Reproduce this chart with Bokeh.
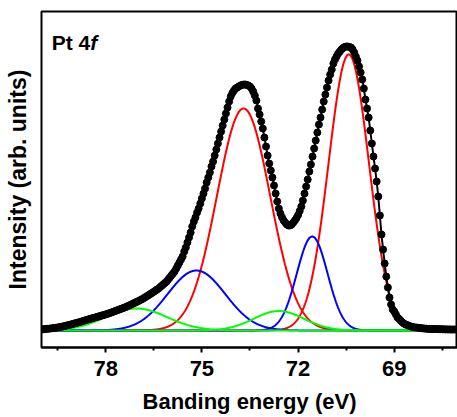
import numpy as np
from bokeh.plotting import figure
from bokeh.models import Range1d, FixedTicker, Label
from bokeh.embed import file_html
from bokeh.resources import INLINE

# ---- data (binding energy in eV, intensity in arbitrary units) ----
be_start = 80.0
be_step = 0.05
intensity = [
    1.0, 1.2, 1.4, 1.6, 1.7, 1.9, 2.1, 2.3, 2.5, 2.8,
    3.0, 3.3, 3.6, 3.9, 4.3, 4.7, 5.1, 5.5, 5.9, 6.3,
    6.8, 7.2, 7.6, 8.1, 8.5, 9.0, 9.5, 10.0, 10.5, 11.0,
    11.4, 11.9, 12.4, 12.8, 13.3, 13.8, 14.2, 14.7, 15.2, 15.6,
    16.1, 16.6, 17.1, 17.7, 18.3, 18.9, 19.5, 20.1, 20.7, 21.3,
    21.9, 22.5, 23.1, 23.8, 24.6, 25.3, 26.1, 26.8, 27.6, 28.4,
    29.1, 29.9, 30.7, 31.6, 32.6, 33.6, 34.6, 35.6, 36.6, 37.7,
    38.7, 39.8, 40.9, 42.0, 43.4, 44.8, 46.2, 47.6, 49.0, 51.0,
    53, 55, 57, 59, 62, 65, 68, 71, 74, 79,
    83, 88, 93, 98, 104, 109, 113, 118, 122, 127,
    132, 137, 142, 148, 153, 158, 164, 169, 175, 181,
    187, 193, 199, 205, 211, 217, 223, 229, 234, 237.5,
    240, 242, 243, 244, 245, 245.5, 246, 246, 245.5, 245,
    244, 242, 239, 235, 230, 222, 216, 209, 202, 193,
    184, 175, 167, 160, 153, 145, 137, 129, 122, 117,
    113, 110, 108, 106, 105, 105, 106, 108, 110, 112.5,
    115.5, 119.5, 124, 130, 137, 144, 151, 159, 166, 174,
    182, 190, 198, 206, 213, 221, 229, 236, 243, 250,
    256, 261, 267, 271, 274, 277, 279, 281, 282.5, 283.5,
    284, 284, 283.5, 283, 281, 278, 274, 270, 264, 258,
    251, 242, 231, 222, 213, 200, 187, 174, 162, 149,
    134, 115, 96, 81, 67, 54, 43, 33, 26, 21,
    19, 16, 13, 11.5, 9.8, 8.2, 6.9, 6.1, 5.4, 4.8,
    4.2, 3.7, 3.3, 3.1, 2.9, 2.7, 2.5, 2.3, 2.1, 1.9,
    1.8, 1.7, 1.6, 1.6, 1.5, 1.5, 1.4, 1.4, 1.3, 1.3,
    1.2, 1.2, 1.1, 1.1, 1.1, 1.0, 1.0, 1.0, 1.0, 1.0,
    1.0,
]
binding_energy = [round(be_start - be_step * i, 2) for i in range(len(intensity))]

# fitted components: (centre eV, height, sigma eV)
comp_colors = ["#ff0000", "#0000ff", "#00ff00"]
comp_centers = [[73.70, 70.42], [75.17, 71.56], [77.04, 72.60]]
comp_heights = [[222, 276], [60, 94], [22, 19.5]]
comp_sigmas = [[0.83, 0.63], [0.90, 0.48], [0.96, 0.78]]

major_ticks = [78, 75, 72, 69]
minor_ticks = [79.5, 76.5, 73.5, 70.5, 67.5]

FONT = "Liberation Sans"

p = figure(width=457, height=417, output_backend="svg", toolbar_location=None,
           x_range=Range1d(80, 67.03), y_range=Range1d(-17, 319),
           min_border_left=41, min_border_right=0, min_border_top=11,
           min_border_bottom=70)
p.background_fill_color = "white"
p.border_fill_color = "white"
p.outline_line_color = "black"
p.outline_line_width = 2
p.xgrid.visible = False
p.ygrid.visible = False

grid = np.linspace(80, 67, 1301)
for col, cs, hs, ss in zip(comp_colors, comp_centers, comp_heights, comp_sigmas):
    for c, h, s in zip(cs, hs, ss):
        yv = h * np.exp(-((grid - c) ** 2) / (2 * s * s))
        p.line(grid, yv, line_color=col, line_width=2)

p.scatter(binding_energy, intensity, size=7, fill_color="black", line_color="black")
p.line(binding_energy, intensity, line_color="black", line_width=2)

# x axis
xa = p.xaxis[0]
xa.ticker = FixedTicker(ticks=major_ticks, minor_ticks=minor_ticks)
xa.axis_line_color = "black"
xa.axis_line_width = 2
xa.major_tick_line_width = 2
xa.minor_tick_line_width = 2
xa.major_tick_out = 5
xa.major_tick_in = 0
xa.minor_tick_out = 3
xa.minor_tick_in = 0
xa.major_label_text_font = FONT
xa.major_label_text_font_style = "bold"
xa.major_label_text_font_size = "22px"
xa.major_label_text_color = "black"
xa.major_label_standoff = 8
xa.axis_label = "Banding energy (eV)"
xa.axis_label_text_font = FONT
xa.axis_label_text_font_style = "bold"
xa.axis_label_text_font_size = "22px"
xa.axis_label_text_color = "black"
xa.axis_label_standoff = 10

# y axis
ya = p.yaxis[0]
ya.ticker = FixedTicker(ticks=[])
ya.axis_line_color = None
ya.major_tick_line_color = None
ya.minor_tick_line_color = None
ya.axis_label = "Intensity (arb. units)"
ya.axis_label_text_font = FONT
ya.axis_label_text_font_style = "bold"
ya.axis_label_text_font_size = "23px"
ya.axis_label_text_color = "black"
ya.axis_label_standoff = 11

p.add_layout(Label(x=79.68, y=288.3, text="Pt 4", text_font=FONT, text_font_style="bold",
                   text_font_size="21px", text_color="black", text_baseline="alphabetic"))
p.add_layout(Label(x=78.48, y=288.3, text="f", text_font=FONT, text_font_style="bold italic",
                   text_font_size="21px", text_color="black", text_baseline="alphabetic"))

open("out.html", "w").write(file_html(p, INLINE))
